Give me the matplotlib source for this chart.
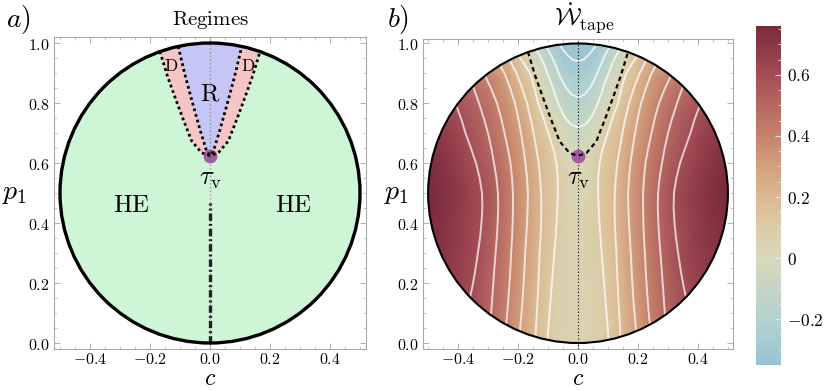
import numpy as np
import matplotlib
matplotlib.use('Agg')
import matplotlib.pyplot as plt
import matplotlib.tri as mtri
from matplotlib.colors import LinearSegmentedColormap, Normalize
from matplotlib.patches import Circle, Polygon

plt.rcParams['mathtext.fontset'] = 'cm'
plt.rcParams['font.family'] = ['DejaVu Serif']

# ---------------- data ----------------
tau_c, tau_p = 0.0, 0.625
# regime boundaries (c >= 0 half, mirrored to c < 0)
outer_c = [0.0, 0.028, 0.061, 0.09, 0.117, 0.142, 0.167]
outer_p = [0.625, 0.634, 0.673, 0.747, 0.82, 0.89, 0.972]
inner_c = [0.0, 0.011, 0.033, 0.061, 0.085, 0.106]
inner_p = [0.625, 0.638, 0.71, 0.81, 0.90, 0.989]
he_line_p = [0.0, 0.467]

region_text = ['HE', 'HE', 'R', 'D', 'D']
region_c = [-0.26, 0.28, 0.0, -0.128, 0.128]
region_p = [0.46, 0.46, 0.83, 0.922, 0.922]

# W_tape estimates: rows of p1, columns = fraction s of the disk half-width (c >= 0)
w_p1 = [0.0, 0.05, 0.1, 0.2, 0.3, 0.4, 0.5, 0.6, 0.7, 0.8, 0.9, 0.95, 0.985, 1.0]
w_s = [0.0, 0.2, 0.4, 0.6, 0.8, 0.9, 1.0]
w_vals = [
    [0.05, 0.05, 0.05, 0.05, 0.05, 0.05, 0.05],
    [0.05, 0.06, 0.085, 0.18, 0.265, 0.305, 0.35],
    [0.05, 0.07, 0.158, 0.281, 0.407, 0.46, 0.515],
    [0.05, 0.097, 0.255, 0.42, 0.556, 0.61, 0.65],
    [0.045, 0.132, 0.317, 0.50, 0.635, 0.675, 0.71],
    [0.04, 0.155, 0.354, 0.546, 0.665, 0.71, 0.745],
    [0.03, 0.16, 0.366, 0.562, 0.685, 0.73, 0.76],
    [0.015, 0.145, 0.342, 0.523, 0.65, 0.70, 0.745],
    [-0.08, 0.09, 0.283, 0.455, 0.588, 0.64, 0.68],
    [-0.18, -0.043, 0.173, 0.35, 0.483, 0.53, 0.57],
    [-0.265, -0.2, -0.02, 0.144, 0.288, 0.33, 0.36],
    [-0.31, -0.29, -0.195, -0.065, 0.08, 0.14, 0.17],
    [-0.34, -0.335, -0.31, -0.27, -0.215, -0.19, -0.155],
    [-0.35, -0.35, -0.35, -0.35, -0.35, -0.35, -0.35],
]

# white level lines of W_tape (c >= 0 half, mirrored)
pos_levels = [0.1, 0.2, 0.3, 0.4, 0.5, 0.6]
pos_c = [
    [0.198, 0.178, 0.16, 0.145, 0.133, 0.118, 0.105, 0.092, 0.08, 0.072, 0.068,
     0.067, 0.068, 0.071, 0.075, 0.079, 0.083, 0.087, 0.091, 0.095, 0.099, 0.102],
    [0.228, 0.205, 0.186, 0.17, 0.158, 0.148, 0.139, 0.131, 0.126, 0.123, 0.122,
     0.123, 0.125, 0.128, 0.131, 0.135, 0.139, 0.142],
    [0.26, 0.245, 0.226, 0.21, 0.199, 0.19, 0.182, 0.175, 0.17, 0.167, 0.168,
     0.17, 0.173, 0.176, 0.18, 0.185, 0.19, 0.194],
    [0.31, 0.29, 0.27, 0.256, 0.245, 0.234, 0.225, 0.22, 0.217, 0.217, 0.218,
     0.22, 0.223, 0.227, 0.232, 0.236, 0.24],
    [0.35, 0.33, 0.314, 0.3, 0.289, 0.28, 0.272, 0.267, 0.266, 0.268, 0.271,
     0.275, 0.281, 0.286, 0.29],
    [0.406, 0.39, 0.375, 0.357, 0.34, 0.328, 0.32, 0.319, 0.322, 0.327, 0.334,
     0.343, 0.352, 0.36],
]
pos_p = [
    [0.959, 0.93, 0.9, 0.85, 0.8, 0.76, 0.72, 0.68, 0.64, 0.6, 0.56,
     0.52, 0.47, 0.41, 0.35, 0.3, 0.25, 0.2, 0.15, 0.1, 0.05, 0.011],
    [0.945, 0.9, 0.85, 0.8, 0.75, 0.7, 0.65, 0.6, 0.55, 0.5, 0.45,
     0.4, 0.35, 0.3, 0.22, 0.14, 0.07, 0.02],
    [0.927, 0.9, 0.85, 0.8, 0.75, 0.7, 0.65, 0.6, 0.55, 0.5, 0.45,
     0.4, 0.35, 0.3, 0.22, 0.14, 0.08, 0.039],
    [0.892, 0.85, 0.8, 0.75, 0.7, 0.65, 0.6, 0.55, 0.5, 0.45, 0.4,
     0.35, 0.3, 0.22, 0.15, 0.1, 0.061],
    [0.857, 0.8, 0.75, 0.7, 0.65, 0.6, 0.55, 0.5, 0.45, 0.4, 0.35,
     0.3, 0.22, 0.15, 0.094],
    [0.792, 0.75, 0.7, 0.65, 0.6, 0.55, 0.5, 0.45, 0.4, 0.35, 0.3,
     0.24, 0.19, 0.153],
]
neg_levels = [-0.1, -0.2, -0.3]
neg_c = [
    [0.0, 0.025, 0.045, 0.062, 0.077, 0.09, 0.102, 0.113, 0.125, 0.139],
    [0.0, 0.022, 0.042, 0.058, 0.072, 0.085, 0.096, 0.105],
    [0.0, 0.018, 0.034, 0.047, 0.056, 0.06],
]
neg_p = [
    [0.72, 0.73, 0.755, 0.79, 0.83, 0.87, 0.9, 0.93, 0.955, 0.98],
    [0.82, 0.83, 0.855, 0.885, 0.92, 0.95, 0.972, 0.989],
    [0.94, 0.946, 0.96, 0.975, 0.988, 0.996],
]

cbar_range = (-0.35, 0.76)
cbar_ticks = [-0.2, 0.0, 0.2, 0.4, 0.6]
cbar_labels = ['$-0.2$', '$0$', '$0.2$', '$0.4$', '$0.6$']
cmap_vals = [-0.35, -0.2, 0.0, 0.1, 0.2, 0.3, 0.4, 0.6, 0.76]
cmap_cols = ['#97c4d4', '#b4d2cf', '#d8d8bb', '#dccca7', '#dbb993', '#d3a07f',
             '#c6836c', '#a44d56', '#7a2b3b']
x_ticks = [-0.4, -0.2, 0.0, 0.2, 0.4]
y_ticks = [0.0, 0.2, 0.4, 0.6, 0.8, 1.0]

# ---------------- helpers ----------------
def mirror(cs, ps):
    cs = np.asarray(cs); ps = np.asarray(ps)
    return (np.concatenate([-cs[::-1], cs[1:]]),
            np.concatenate([ps[::-1], ps[1:]]))

def style_axes(ax, xlim, ylim):
    ax.set_xlim(*xlim); ax.set_ylim(*ylim)
    ax.set_xticks(x_ticks)
    ax.set_xticklabels([f'${t:.1f}$' for t in x_ticks], fontsize=11.5)
    ax.set_yticks(y_ticks)
    ax.set_yticklabels([f'${t:.1f}$' for t in y_ticks], fontsize=11.5)
    ax.set_xticks(np.arange(-0.5, 0.51, 0.05), minor=True)
    ax.set_yticks(np.arange(0.0, 1.01, 0.05), minor=True)
    ax.tick_params(which='both', direction='in', top=True, right=True,
                   color='#b0b0b0', pad=3)
    ax.tick_params(axis='x', which='both', pad=1.5)
    ax.tick_params(which='major', length=4, width=0.7)
    ax.tick_params(which='minor', length=2, width=0.5)
    for s in ax.spines.values():
        s.set_color('#a8a8a8'); s.set_linewidth(0.8)

W = 830.0; H = 391.0
fig = plt.figure(figsize=(8.3, 3.91), dpi=100)

# ---------------- panel a ----------------
ax = fig.add_axes([54 / W, 42 / H, 312 / W, 312 / H])
style_axes(ax, (-0.52, 0.52), (-0.02, 1.02))
disk = Circle((0, 0.5), 0.5, facecolor='#cdf5d6', edgecolor='none', zorder=1)
ax.add_patch(disk)
clip = Circle((0, 0.5), 0.5, transform=ax.transData)
oc, op = mirror(outer_c, outer_p)
ic, ip = mirror(inner_c, inner_p)
pD = Polygon(list(zip(oc, op)) + [(oc[-1], 1.1), (oc[0], 1.1)],
             facecolor='#f6c6c6', edgecolor='none', zorder=2)
ax.add_patch(pD); pD.set_clip_path(clip)
pR = Polygon(list(zip(ic, ip)) + [(ic[-1], 1.1), (ic[0], 1.1)],
             facecolor='#c6c6f6', edgecolor='none', zorder=3)
ax.add_patch(pR); pR.set_clip_path(clip)
ax.axvline(0, color='#8a8a8a', lw=0.9, ls=(0, (1, 2)), zorder=4)
ax.plot([0, 0], he_line_p, color='#222222', lw=2.4,
        ls=(0, (2.2, 0.9, 0.6, 0.9)), zorder=5)
ax.plot(tau_c, tau_p, 'o', ms=10, color='#9b4c9b', alpha=0.9, zorder=6, mec='none')
ax.plot(oc, op, color='black', lw=2.0, ls=(0, (1, 1.1)), zorder=7)
ax.plot(ic, ip, color='black', lw=2.0, ls=(0, (1, 1.1)), zorder=7)
ax.add_patch(Circle((0, 0.5), 0.5, facecolor='none', edgecolor='black', lw=2.4, zorder=8))
for t, cx, py in zip(region_text, region_c, region_p):
    fs = 12.5 if t == 'D' else 18
    ax.text(cx, py, r'$\mathrm{%s}$' % t, fontsize=fs, ha='center', va='center', zorder=9)
ax.text(tau_c, tau_p - 0.075, r'$\tau_{\rm v}$', fontsize=19, ha='center', va='center', zorder=9)

# ---------------- panel b ----------------
bx = fig.add_axes([423 / W, 42 / H, 310 / W, 310 / H])
style_axes(bx, (-0.517, 0.517), (-0.02, 1.015))
cmap = LinearSegmentedColormap.from_list(
    'rbt', [((v - cmap_vals[0]) / (cmap_vals[-1] - cmap_vals[0]), c)
            for v, c in zip(cmap_vals, cmap_cols)])
norm = Normalize(*cbar_range)

s_half = np.asarray(w_s)
s_full = np.concatenate([-s_half[::-1], s_half[1:]])
vals = np.asarray(w_vals)
z_full = np.concatenate([vals[:, ::-1], vals[:, 1:]], axis=1)
S, P = np.meshgrid(s_full, np.asarray(w_p1))
ns = len(s_full); npr = len(w_p1)
tris = []
for i in range(npr - 1):
    for j in range(ns - 1):
        a0 = i * ns + j; a1 = a0 + 1; b0 = a0 + ns; b1 = b0 + 1
        tris.append([a0, a1, b1]); tris.append([a0, b1, b0])
tri_sp = mtri.Triangulation(S.ravel(), P.ravel(), np.array(tris))
interp = mtri.CubicTriInterpolator(tri_sp, z_full.ravel(), kind='geom')
ref = mtri.UniformTriRefiner(tri_sp)
tri_r, z_r = ref.refine_field(z_full.ravel(), triinterpolator=interp, subdiv=4)
pr = np.clip(tri_r.y, 0, 1)
cr = tri_r.x * np.sqrt(pr * (1 - pr))
tri_c = mtri.Triangulation(cr, pr, tri_r.triangles)
xy = np.stack([cr, pr], 1)[tri_r.triangles]
area = 0.5 * np.abs((xy[:, 1, 0] - xy[:, 0, 0]) * (xy[:, 2, 1] - xy[:, 0, 1]) -
                    (xy[:, 2, 0] - xy[:, 0, 0]) * (xy[:, 1, 1] - xy[:, 0, 1]))
tri_c.set_mask(area < 1e-12)
clip_b = Circle((0, 0.5), 0.5, transform=bx.transData)
tp = bx.tripcolor(tri_c, z_r, shading='gouraud', cmap=cmap, norm=norm, zorder=1)
tp.set_clip_path(clip_b)

line_kw = dict(color='white', lw=1.4, alpha=0.72, zorder=2, solid_capstyle='round')
for cl, pl in zip(pos_c, pos_p):
    for sgn in (-1, 1):
        ln, = bx.plot(sgn * np.asarray(cl), pl, **line_kw)
        ln.set_clip_path(clip_b)
for cl, pl in zip(neg_c, neg_p):
    mc, mp = mirror(cl, pl)
    ln, = bx.plot(mc, mp, **line_kw)
    ln.set_clip_path(clip_b)

bx.axvline(0, color='black', lw=0.8, ls=(0, (1, 2)), zorder=3)
bx.plot(tau_c, tau_p, 'o', ms=10, color='#a04ea0', alpha=0.9, zorder=4, mec='none')
bx.plot(oc, op, color='black', lw=1.6, ls=(0, (2, 1.6)), zorder=5)
bx.add_patch(Circle((0, 0.5), 0.5, facecolor='none', edgecolor='black', lw=1.5, zorder=6))
bx.text(tau_c, tau_p - 0.075, r'$\tau_{\rm v}$', fontsize=19, ha='center', va='center', zorder=9)

# colorbar
cax = fig.add_axes([756 / W, 26 / H, 25 / W, 339 / H])
cb = fig.colorbar(matplotlib.cm.ScalarMappable(norm=norm, cmap=cmap), cax=cax)
cb.outline.set_visible(False)
cb.set_ticks(cbar_ticks)
cb.set_ticklabels(cbar_labels, fontsize=12.5)
cax.set_yticks(np.arange(-0.35, 0.76, 0.05), minor=True)
cax.tick_params(which='both', direction='in', color='#e8e8e8', pad=4)
cax.tick_params(which='major', length=4)
cax.tick_params(which='minor', length=2)

# figure texts
fig.text(18 / W, 1 - 20 / H, r'$a)$', fontsize=20, ha='center', va='center')
fig.text(398 / W, 1 - 20 / H, r'$b)$', fontsize=20, ha='center', va='center')
fig.text(210 / W, 1 - 20 / H, r'$\mathrm{Regimes}$', fontsize=15, ha='center', va='center')
fig.text(584 / W, 1 - 18 / H, r'$\dot{\mathcal{W}}_{\rm tape}$', fontsize=18, ha='center', va='center')
fig.text(15 / W, 1 - 193 / H, r'$p_1$', fontsize=20, ha='center', va='center')
fig.text(397 / W, 1 - 193 / H, r'$p_1$', fontsize=20, ha='center', va='center')
fig.text(210 / W, 1 - 390 / H, r'$c$', fontsize=17, ha='center', va='bottom')
fig.text(578 / W, 1 - 390 / H, r'$c$', fontsize=17, ha='center', va='bottom')

fig.savefig('out.png', dpi=100)
